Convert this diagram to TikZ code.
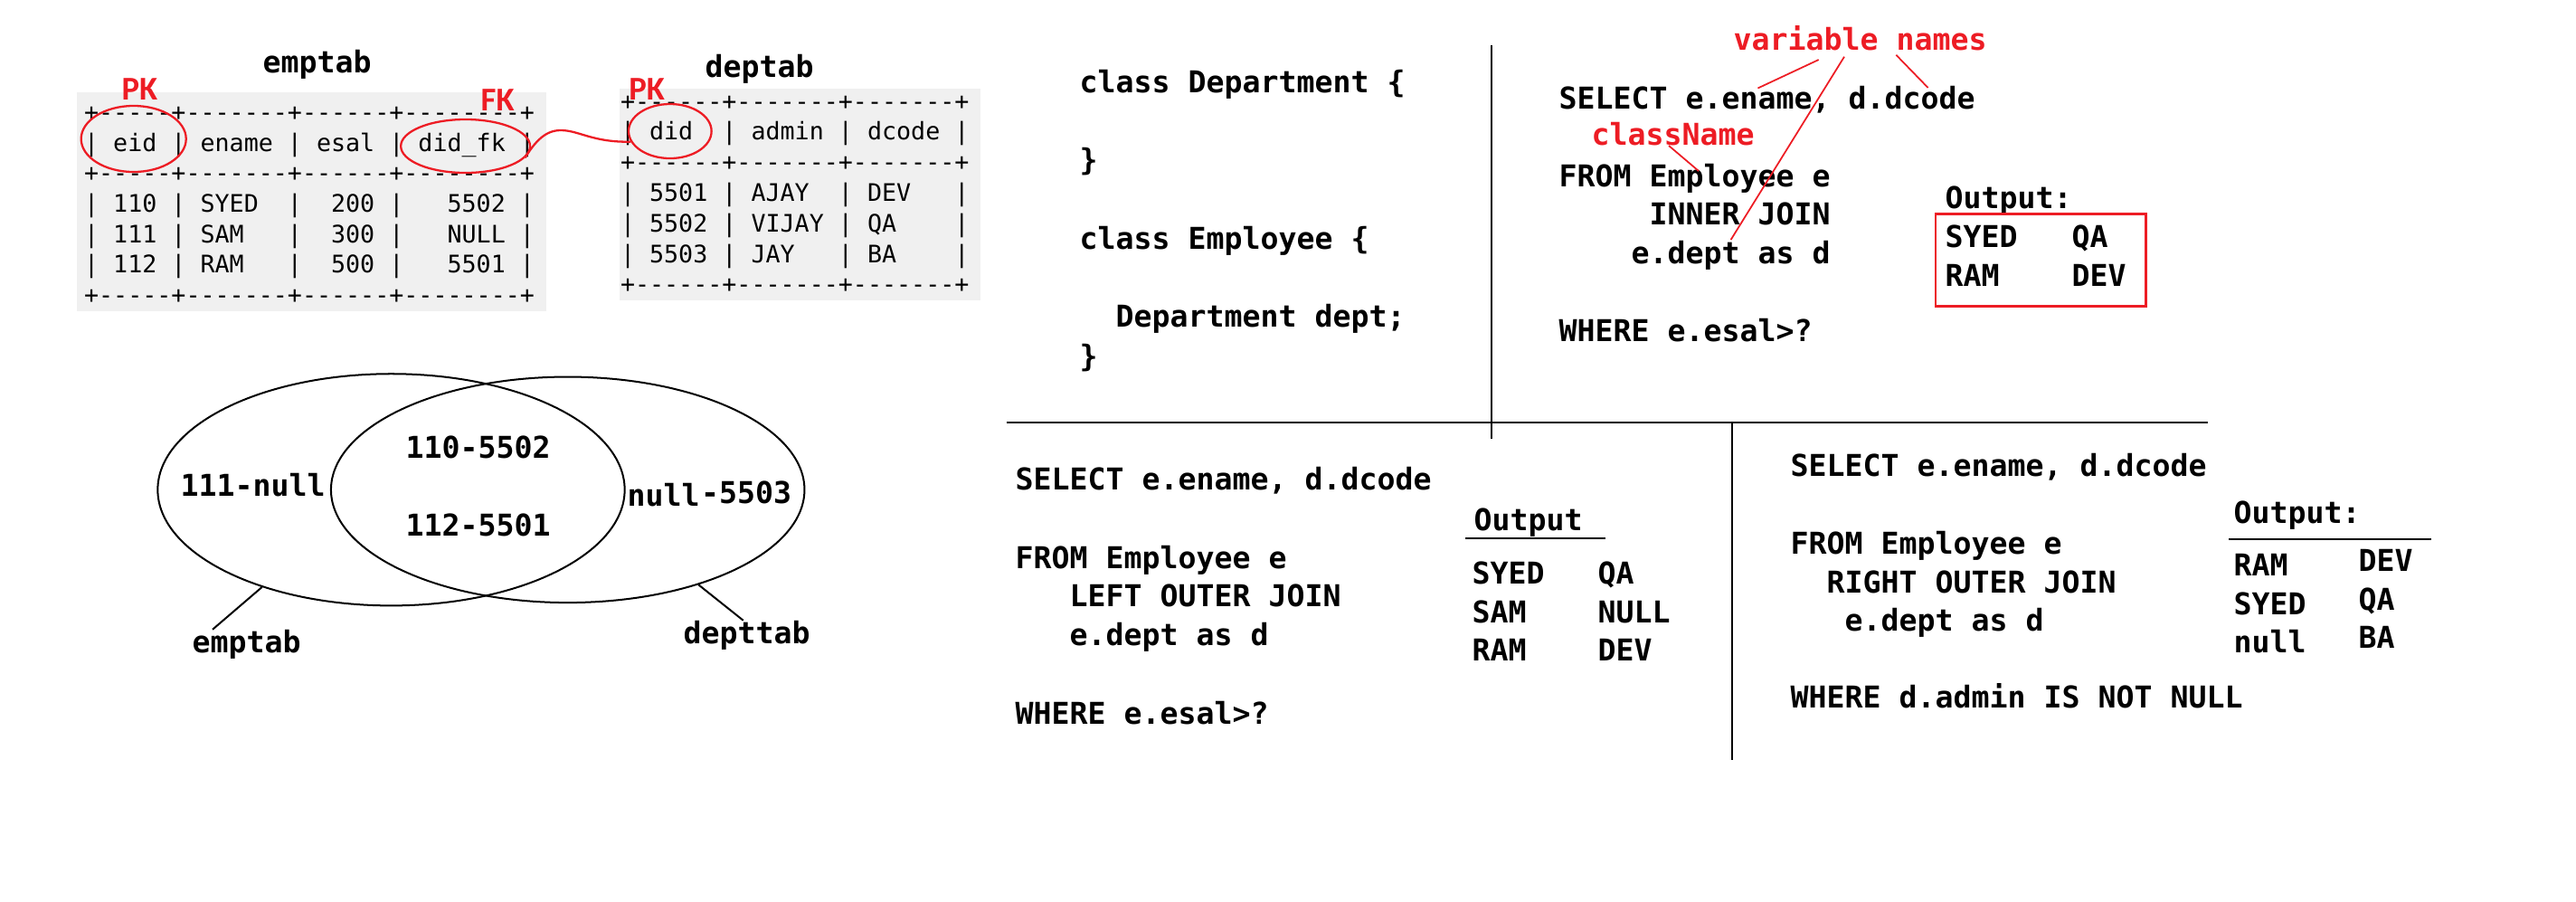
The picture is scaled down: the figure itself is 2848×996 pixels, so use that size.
\documentclass[tikz,border=0pt]{standalone}
\usepackage{fontspec}
\setmonofont{DejaVu Sans Mono}
\newfontfamily\keyfont{Carlito}
\usetikzlibrary{shapes.geometric}
\definecolor{myred}{RGB}{237,28,36}
\definecolor{tabbg}{RGB}{240,240,240}
\tikzset{
  code/.style={font=\ttfamily\bfseries\fontsize{9.446pt}{11pt}\selectfont, inner sep=0pt, anchor=base west},
  redcode/.style={code, text=myred},
  tab/.style={font=\ttfamily\fontsize{7.586pt}{9pt}\selectfont, inner sep=0pt, anchor=base west},
  keylbl/.style={font=\keyfont\bfseries\fontsize{10.44pt}{12pt}\selectfont, text=myred, inner sep=0pt, anchor=base west},
  redell/.style={draw=myred, line width=0.65pt, ellipse, inner sep=0pt},
  venn/.style={draw=black, line width=0.57pt, ellipse, inner sep=0pt},
  divider/.style={draw=black, line width=0.65pt},
  leader/.style={draw=myred, line width=0.5pt},
  pointer/.style={draw=black, line width=0.57pt},
}
\begin{document}
\begin{tikzpicture}[x=0.01cm, y=-0.01cm]
\useasboundingbox[fill=white] (0,0) rectangle (2848,996);

% ---------- emptab ----------
\fill[tabbg] (85,101.7) rectangle (604,344.3);
\node[code] (t1) at (290,80) {emptab};
\node[tab] (e0) at (92.4,133.3) {+-----+-------+------+--------+};
\node[tab] (e1) at (92.4,167.0) {|~eid~|~ename~|~esal~|~did\_fk~|};
\node[tab] (e2) at (92.4,200.7) {+-----+-------+------+--------+};
\node[tab] (e3) at (92.4,234.4) {|~110~|~SYED~~|~~200~|~~~5502~|};
\node[tab] (e4) at (92.4,268.1) {|~111~|~SAM~~~|~~300~|~~~NULL~|};
\node[tab] (e5) at (92.4,301.8) {|~112~|~RAM~~~|~~500~|~~~5501~|};
\node[tab] (e6) at (92.4,335.5) {+-----+-------+------+--------+};
\node[keylbl] (pk1) at (134,110) {PK};
\node[keylbl] (fk1) at (531,122.3) {FK};
\node[redell, minimum width=1.16cm, minimum height=0.73cm] (eidE) at (147.7,153.5) {};
\node[redell, minimum width=1.428cm, minimum height=0.59cm] (fkE) at (514.6,161.5) {};

% ---------- deptab ----------
\fill[tabbg] (685,97.7) rectangle (1084,331.7);
\node[code] (t2) at (779,85) {deptab};
\node[tab] (d0) at (685.3,121.0) {+------+-------+-------+};
\node[tab] (d1) at (685.3,154.8) {|~did~~|~admin~|~dcode~|};
\node[tab] (d2) at (685.3,188.6) {+------+-------+-------+};
\node[tab] (d3) at (685.3,222.4) {|~5501~|~AJAY~~|~DEV~~~|};
\node[tab] (d4) at (685.3,256.2) {|~5502~|~VIJAY~|~QA~~~~|};
\node[tab] (d5) at (685.3,290.0) {|~5503~|~JAY~~~|~BA~~~~|};
\node[tab] (d6) at (685.3,323.8) {+------+-------+-------+};
\node[keylbl] (pk2) at (694.7,110.7) {PK};
\node[redell, minimum width=0.916cm, minimum height=0.60cm] (didE) at (740.8,145) {};

\coordinate (bump) at (620,144);
\draw[leader, line width=0.65pt] (fkE.-11) .. controls (592,156) and (603,144) .. (bump)
  .. controls (640,144) and (655,157.5) .. (didE.195.5);

% ---------- Venn ----------
\node[venn, minimum width=5.16cm, minimum height=2.56cm] (vL) at (432.5,541.3) {};
\node[venn, minimum width=5.232cm, minimum height=2.494cm] (vR) at (627.7,541.3) {};
\node[code] (v1) at (448,506.7) {110-5502};
\node[code] (v2) at (448,592.7) {112-5501};
\node[code] (v3) at (199,548.3) {111-null};
\node[code] (v4) at (693,559) {null};
\node[code] (v5) at (774.5,556) {-5503};
\node[code] (lE) at (212,721.7) {emptab};
\node[code] (lD) at (755,711.7) {depttab};
\draw[pointer] (vL.217.5) -- ([xshift=0.23cm]lE.north west);
\draw[pointer] (vR.324.8) -- ([xshift=0.667cm]lD.north west);

% ---------- dividers ----------
\draw[divider] (1649,50) -- (1649,485);
\draw[divider] (1112.5,466.7) -- (2441,466.7);
\draw[divider] (1915,466.7) -- (1915,840);

% ---------- classes ----------
\node[code] (c1) at (1193,102.7) {class Department \{};
\node[code] (c2) at (1193,188.3) {\}};
\node[code] (c3) at (1193,275) {class Employee \{};
\node[code] (c4) at (1233,361.7) {Department dept;};
\node[code] (c5) at (1193,405) {\}};

% ---------- inner join ----------
\node[redcode] (vn) at (1916,55.5) {variable names};
\node[code] (q1a) at (1723,120) {SELECT e.ename, d.dcode};
\node[redcode] (cn) at (1759,160.7) {className};
\node[code] (q1b) at (1723,206) {FROM Employee e};
\node[code] (q1c) at (1823,248.5) {INNER JOIN};
\node[code] (q1d) at (1803,291) {e.dept as d};
\node[code] (q1e) at (1723,377) {WHERE e.esal>?};
\node[code] (o1) at (2150,230) {Output:};
\node[code] (o1a) at (2150,273.3) {SYED};
\node[code] (o1b) at (2290,273.3) {QA};
\node[code] (o1c) at (2150,316) {RAM};
\node[code] (o1d) at (2290,316) {DEV};
\draw[draw=myred, line width=0.7pt] (2140,236.7) rectangle (2372.3,338.3);
\coordinate (l1a) at (2010.7,66);   \coordinate (l1b) at (1943.4,97.5);
\coordinate (l2a) at (2039,62.7);   \coordinate (l2b) at (1913.6,265);
\coordinate (l3a) at (2096.3,60.7); \coordinate (l3b) at (2131.6,97);
\coordinate (l4a) at (1845,161);    \coordinate (l4b) at (1878,189);
\draw[leader] (l1a) -- (l1b);
\draw[leader] (l2a) -- (l2b);
\draw[leader] (l3a) -- (l3b);
\draw[leader] (l4a) -- (l4b);

% ---------- left outer join ----------
\node[code] (q2a) at (1122,541.7) {SELECT e.ename, d.dcode};
\node[code] (q2b) at (1122,628.3) {FROM Employee e};
\node[code] (q2c) at (1182,670.7) {LEFT OUTER JOIN};
\node[code] (q2d) at (1182,713.3) {e.dept as d};
\node[code] (q2e) at (1122,800) {WHERE e.esal>?};
\node[code] (o2) at (1629,586) {Output};
\coordinate (u2a) at (1620.3,595.3); \coordinate (u2b) at (1774.5,595.3);
\draw[divider] (u2a) -- (u2b);
\node[code] (o2a) at (1627,645) {SYED};
\node[code] (o2b) at (1766,645) {QA};
\node[code] (o2c) at (1627,688.3) {SAM};
\node[code] (o2d) at (1766,688.3) {NULL};
\node[code] (o2e) at (1627,730.7) {RAM};
\node[code] (o2f) at (1766,730.7) {DEV};

% ---------- right outer join ----------
\node[code] (q3a) at (1979,526) {SELECT e.ename, d.dcode};
\node[code] (q3b) at (1979,612.7) {FROM Employee e};
\node[code] (q3c) at (2019,655) {RIGHT OUTER JOIN};
\node[code] (q3d) at (2039,697.3) {e.dept as d};
\node[code] (q3e) at (1979,782) {WHERE d.admin IS NOT NULL};
\node[code] (o3) at (2469,578.3) {Output:};
\coordinate (u3a) at (2464.4,596); \coordinate (u3b) at (2687.7,596);
\draw[divider] (u3a) -- (u3b);
\node[code] (o3a) at (2469,636.7) {RAM};
\node[code] (o3b) at (2607,631.7) {DEV};
\node[code] (o3c) at (2469,679.3) {SYED};
\node[code] (o3d) at (2607,674) {QA};
\node[code] (o3e) at (2469,721.7) {null};
\node[code] (o3f) at (2607,716.7) {BA};
\end{tikzpicture}
\end{document}
